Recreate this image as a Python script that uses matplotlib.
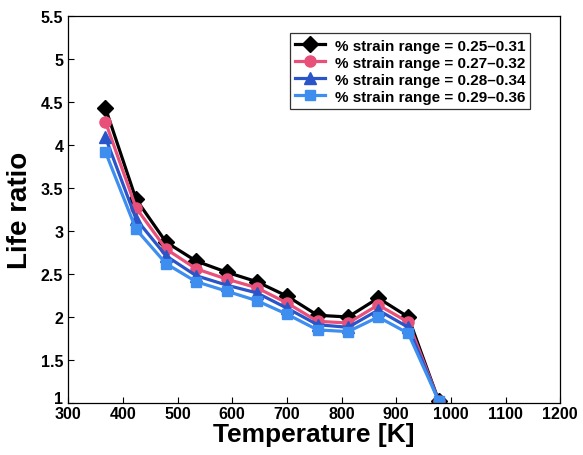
import numpy as np
import matplotlib
matplotlib.use('Agg')
import matplotlib.pyplot as plt
import matplotlib.transforms as mtransforms

plt.rcParams['font.family'] = ['Liberation Sans', 'DejaVu Sans']
plt.rcParams['font.weight'] = 'bold'

# temperatures [K]
temps = [368, 424, 479, 534, 590, 645, 701, 756, 812, 867, 922, 978]

# life ratio for each strain range
ratio_025 = [4.43, 3.37, 2.87, 2.65, 2.52, 2.41, 2.24, 2.02, 2.00, 2.22, 2.00, 1.02]
ratio_027 = [4.27, 3.27, 2.79, 2.56, 2.44, 2.34, 2.16, 1.95, 1.93, 2.14, 1.94, 1.02]
ratio_028 = [4.09, 3.14, 2.71, 2.48, 2.37, 2.28, 2.10, 1.91, 1.88, 2.08, 1.88, 1.02]
ratio_029 = [3.92, 3.02, 2.62, 2.41, 2.30, 2.19, 2.03, 1.85, 1.83, 2.00, 1.81, 1.02]

labels = ['% strain range = 0.25\u20130.31',
          '% strain range = 0.27\u20130.32',
          '% strain range = 0.28\u20130.34',
          '% strain range = 0.29\u20130.36']

fig = plt.figure(figsize=(5.83, 4.56), dpi=100)
ax = fig.add_axes([0.117, 0.114, 0.844, 0.849])

series = [ratio_025, ratio_027, ratio_028, ratio_029]
colors = ['black', '#e8507a', '#2a55c8', '#3e8ef0']
markers = ['D', 'o', '^', 's']
msizes = [8, 8, 8.5, 7.5]

for vals, c, m, ms, lab in zip(series, colors, markers, msizes, labels):
    ax.plot(temps, vals, color=c, marker=m, markersize=ms, linewidth=2.3,
            markeredgecolor=c, label=lab)

ax.set_xlim(300, 1200)
ax.set_ylim(1, 5.5)
ax.set_xticks(np.arange(300, 1201, 100))
ax.set_yticks(np.arange(1, 5.51, 0.5))
ax.set_yticklabels(['1', '1.5', '2', '2.5', '3', '3.5', '4', '4.5', '5', '5.5'])
ax.tick_params(direction='in', length=4, labelsize=11.5, width=0.8)
ax.tick_params(axis='x', pad=2.5)
for lbl in ax.get_xticklabels() + ax.get_yticklabels():
    lbl.set_fontweight('bold')
# lift the bottom "1" a little so it sits just above "300"
bottom = ax.get_yticklabels()[0]
bottom.set_transform(bottom.get_transform() +
                     mtransforms.ScaledTranslation(0, 4.5 / 72, fig.dpi_scale_trans))
for sp in ax.spines.values():
    sp.set_linewidth(0.9)

ax.set_xlabel('Temperature [K]', fontsize=19, fontweight='bold', labelpad=0.5)
ax.set_ylabel('Life ratio', fontsize=20, fontweight='bold', labelpad=6)

leg = ax.legend(loc='upper right', bbox_to_anchor=(0.955, 0.975), fontsize=11,
                frameon=True, fancybox=False, edgecolor='black',
                handlelength=2.0, borderpad=0.35, labelspacing=0.2,
                handletextpad=0.6)
leg.get_frame().set_linewidth(0.9)
for t in leg.get_texts():
    t.set_fontweight('bold')

fig.savefig('out.png', dpi=100)
